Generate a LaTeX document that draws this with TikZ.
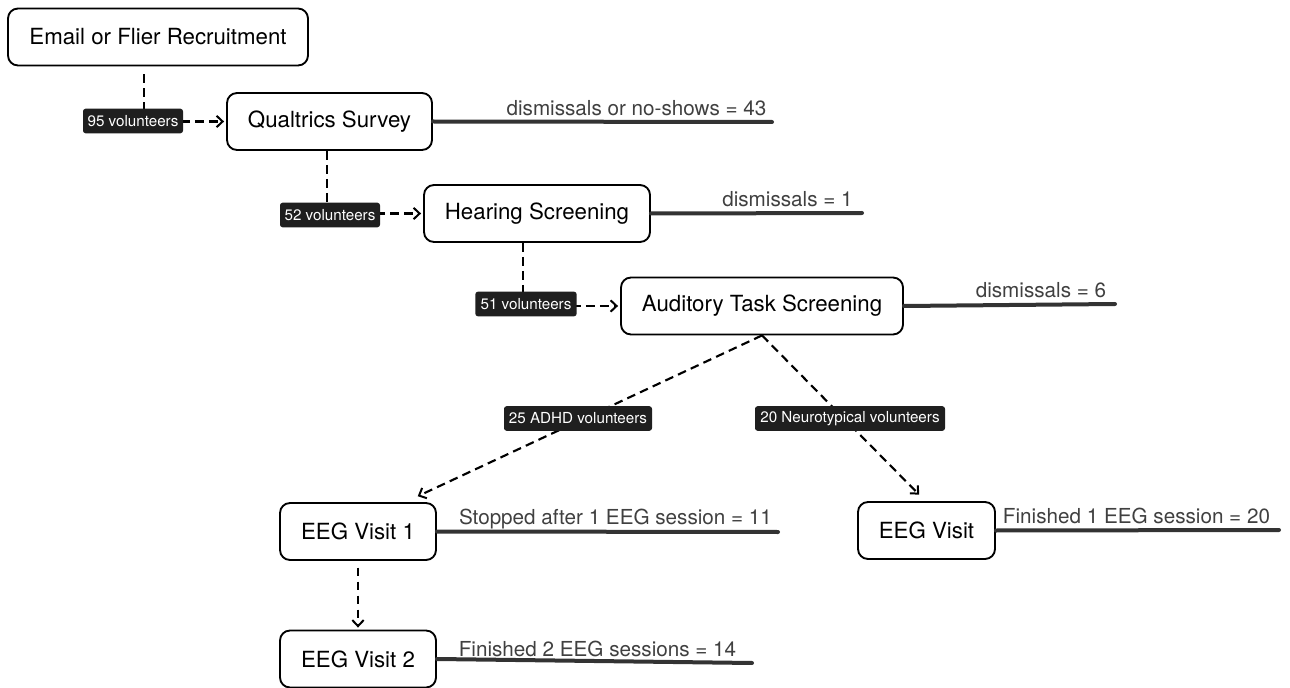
\documentclass[tikz,border=0pt]{standalone}
\usepackage{fontspec}
\setmainfont{TeX Gyre Heros}
\usetikzlibrary{arrows.meta,calc}
\newcommand{\boxfont}{\fontsize{16.7}{20}\selectfont}
\newcommand{\linefont}{\fontsize{15.5}{18}\selectfont}
\newcommand{\pillfont}{\fontsize{11.4}{13}\selectfont}
\tikzset{
  stagebox/.style={draw=black, line width=1.4pt, rounded corners=7.5pt, fill=white,
    minimum height=42.75pt, inner sep=0pt, font=\boxfont},
  pill/.style={fill=black!88, text=white, rounded corners=2pt, inner sep=0pt,
    minimum height=18.5pt, font=\pillfont},
  conn/.style={line width=1.6pt, dash pattern=on 6.5pt off 4pt, shorten >=1.5pt,
    -{Straight Barb[length=4.5pt,width=8.5pt,line width=1.5pt]}},
  outline/.style={line width=3pt, draw=black!80, line cap=round},
  outtext/.style={anchor=base, font=\linefont, text=black!75, inner sep=0pt},
}
\begin{document}
\begin{tikzpicture}[x=0.75pt,y=-0.75pt]
\useasboundingbox (0,0) rectangle (1290,688);

% stages
\node[stagebox, minimum width=225pt] (email) at (158,37) {Email or Flier Recruitment};
\node[stagebox, minimum width=153.75pt] (qual) at (329.5,121.5) {Qualtrics Survey};
\node[stagebox, minimum width=169.5pt] (hear) at (537,213.5) {Hearing Screening};
\node[stagebox, minimum width=211.5pt] (aud) at (762,306) {Auditory Task Screening};
\node[stagebox, minimum width=117pt] (eeg1) at (358,531.5) {EEG Visit 1};
\node[stagebox, minimum width=117pt] (eeg2) at (358,659) {EEG Visit 2};
\node[stagebox, minimum width=102.75pt] (eeg) at (926.5,530.5) {EEG Visit};

% outcome lines
\coordinate (qend) at (772,122);
\coordinate (hend) at (862,213);
\coordinate (aend) at (1115,304);
\coordinate (e1end) at (778,532);
\coordinate (eend) at (1279,530);
\coordinate (e2end) at (752,663);
\draw[outline] (qual.east) -- (qend);
\draw[outline] (hear.east) -- (hend);
\draw[outline] (aud.east) -- (aend);
\draw[outline] (eeg1.east) -- (e1end);
\draw[outline] (eeg.east) -- (eend);
\draw[outline] (eeg2.east) -- (e2end);
\node[outtext] (tq) at (636.5,116) {dismissals or no-shows = 43};
\node[outtext] (th) at (787.5,207) {dismissals = 1};
\node[outtext] (ta) at (1041,298) {dismissals = 6};
\node[outtext] (te1) at (615.5,524) {Stopped after 1 EEG session = 11};
\node[outtext] (te) at (1136.5,523) {Finished 1 EEG session = 20};
\node[outtext] (te2) at (597.5,656) {Finished 2 EEG sessions = 14};

% connectors
\coordinate (k1) at (144,121);
\coordinate (k2) at (327,215);
\coordinate (k3) at (523,305);
\draw[conn, shorten <=6pt] (email.south -| k1) |- (qual.west);
\draw[conn] (qual.south -| k2) |- (hear.west);
\draw[conn] (hear.south -| k3) |- (aud.west);
\node[pill, minimum width=75pt] (p95) at (133,121) {95 volunteers};
\node[pill, minimum width=75pt] (p52) at (330,215) {52 volunteers};
\node[pill, minimum width=76pt] (p51) at (526,304) {51 volunteers};

\draw[conn] (aud.south) -- ([xshift=-15.75pt,yshift=3.75pt]eeg1.north east);
\node[pill, minimum width=111pt] (padhd) at (578,418.5) {25 ADHD volunteers};
\draw[conn] (aud.south) -- ([xshift=-4.5pt,yshift=3.75pt]eeg.north);
\node[pill, minimum width=142.5pt] (pnt) at (850,418.5) {20 Neurotypical volunteers};
\draw[conn, shorten <=5pt] (eeg1.south) -- (eeg2.north);
\end{tikzpicture}
\end{document}
